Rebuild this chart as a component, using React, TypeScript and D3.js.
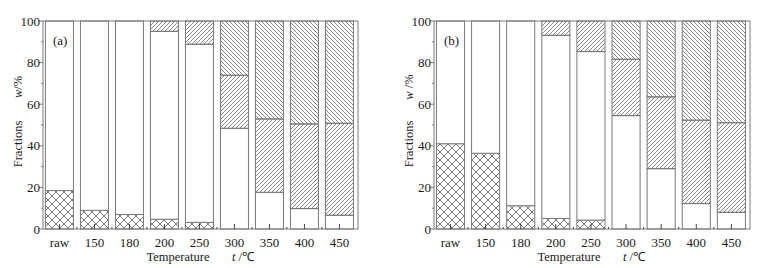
// Two stacked-bar panels: fraction composition vs. treatment temperature
import React from "react"
import * as d3 from "d3"

const categories = ["raw", "150", "180", "200", "250", "300", "350", "400", "450"]
const yTicks = [0, 20, 40, 60, 80, 100]

// panel (a)
const crossA = [18.5, 9, 7, 4.7, 3.2, 0, 0, 0, 0]
const blankA = [81.5, 91, 93, 90.3, 85.6, 48.4, 17.6, 9.8, 6.6]
const slashA = [0, 0, 0, 5, 11.2, 25.5, 35.3, 40.7, 44.2]
const backA = [0, 0, 0, 0, 0, 26.1, 47.1, 49.5, 49.2]

// panel (b)
const crossB = [41, 36.4, 11.2, 5.1, 4.3, 0, 0, 0, 0]
const blankB = [59, 63.6, 88.8, 88, 81, 54.5, 29, 12.2, 8]
const slashB = [0, 0, 0, 6.9, 14.7, 27.1, 34.5, 40.1, 43.1]
const backB = [0, 0, 0, 0, 0, 18.4, 36.5, 47.7, 48.9]

const keys = ["cross", "blank", "slash", "back"]
const fills: Record<string, string> = {
  cross: "url(#crossHatch)",
  blank: "#fff",
  slash: "url(#slashHatch)",
  back: "url(#backHatch)",
}

const ink = "#1a1a1a"
const lineCol = "#7a7a7a"
const font = "'Liberation Serif', 'Times New Roman', serif"
const fs = 13
const fsTitle = 12.5
const top = 21
const bottom = 229

function Panel({ x0, width, label, yUnit, cross, blank, slash, back }) {
  const rows = categories.map((c, i) => ({
    cat: c,
    cross: cross[i],
    blank: blank[i],
    slash: slash[i],
    back: back[i],
  }))
  const series = d3.stack().keys(keys)(rows)

  const x = d3
    .scaleBand()
    .domain(categories)
    .range([x0, x0 + width])
    .paddingInner(0.2)
    .paddingOuter(0.1)
    .align(0.35)
  const y = d3.scaleLinear().domain([0, 100]).range([bottom, top])
  const minor = d3.range(10, 100, 20)
  const step = x.step()

  return (
    <g>
      {series.map(s => (
        <g key={s.key}>
          {s.map((d, i) =>
            d[1] - d[0] > 0 ? (
              <rect
                key={i}
                x={x(categories[i])}
                y={y(d[1])}
                width={x.bandwidth()}
                height={y(d[0]) - y(d[1])}
                fill={fills[s.key]}
                stroke={lineCol}
                strokeWidth={1}
              />
            ) : null
          )}
        </g>
      ))}

      <rect x={x0} y={top} width={width} height={bottom - top} fill="none" stroke={lineCol} strokeWidth={1} />

      {/* y ticks */}
      {yTicks.map(t => (
        <g key={t}>
          <line x1={x0 - 4} x2={x0} y1={y(t)} y2={y(t)} stroke={lineCol} />
          <text
            x={x0 - 3}
            y={y(t)}
            dy="0.35em"
            textAnchor="end"
            fontSize={fs}
            fontFamily={font}
            fill={ink}
          >
            {t}
          </text>
        </g>
      ))}
      {minor.map(t => (
        <line key={t} x1={x0 - 2} x2={x0} y1={y(t)} y2={y(t)} stroke={lineCol} />
      ))}

      {/* x ticks */}
      {categories.map((c, i) => {
        const cx = x(c) + x.bandwidth() / 2
        return (
          <g key={c}>
            <line x1={cx} x2={cx} y1={bottom} y2={bottom - 5} stroke={ink} strokeWidth={0.8} />
            {i > 0 ? (
              <line
                x1={x(c) - (step - x.bandwidth()) / 2}
                x2={x(c) - (step - x.bandwidth()) / 2}
                y1={bottom}
                y2={bottom - 2}
                stroke={ink}
                strokeWidth={0.8}
              />
            ) : null}
            <text x={cx} y={247} textAnchor="middle" fontSize={fs} fontFamily={font} fill={ink}>
              {c}
            </text>
          </g>
        )
      })}

      <text x={x0 + 10} y={45} fontSize={fs} fontFamily={font} fill={ink}>
        {label}
      </text>

      {/* axis titles */}
      <text x={x0 + 135} y={261} textAnchor="middle" fontSize={fsTitle} fontFamily={font} fill={ink}>
        Temperature
      </text>
      <text x={x0 + 189} y={261} fontSize={fsTitle} fontFamily={font} fill={ink}>
        <tspan fontStyle="italic">t</tspan> /℃
      </text>
      <text
        transform={`translate(${x0 - 21},144) rotate(-90)`}
        textAnchor="middle"
        fontSize={fsTitle}
        fontFamily={font}
        fill={ink}
      >
        Fractions
      </text>
      <text
        transform={`translate(${x0 - 21},87) rotate(-90)`}
        textAnchor="middle"
        fontSize={fsTitle}
        fontFamily={font}
        fill={ink}
      >
        <tspan fontStyle="italic">w</tspan>
        {yUnit}
      </text>
    </g>
  )
}

export default function App() {
  return (
    <svg
      width={766}
      height={268}
      style={{ position: "absolute", left: 0, top: 0, background: "#fff" }}
    >
      <defs>
        <pattern id="crossHatch" patternUnits="userSpaceOnUse" width={8} height={8}>
          <path d="M0,0 L8,8 M8,0 L0,8" stroke="#555" strokeWidth={0.8} />
        </pattern>
        <pattern id="slashHatch" patternUnits="userSpaceOnUse" width={4} height={4}>
          <path d="M-1,1 l2,-2 M0,4 l4,-4 M3,5 l2,-2" stroke="#555" strokeWidth={0.7} />
        </pattern>
        <pattern id="backHatch" patternUnits="userSpaceOnUse" width={4} height={4}>
          <path d="M-1,3 l2,2 M0,0 l4,4 M3,-1 l2,2" stroke="#555" strokeWidth={0.7} />
        </pattern>
      </defs>
      <Panel x0={43} width={315} label="(a)" yUnit="/%" cross={crossA} blank={blankA} slash={slashA} back={backA} />
      <Panel x0={434} width={316} label="(b)" yUnit=" /%" cross={crossB} blank={blankB} slash={slashB} back={backB} />
    </svg>
  )
}
